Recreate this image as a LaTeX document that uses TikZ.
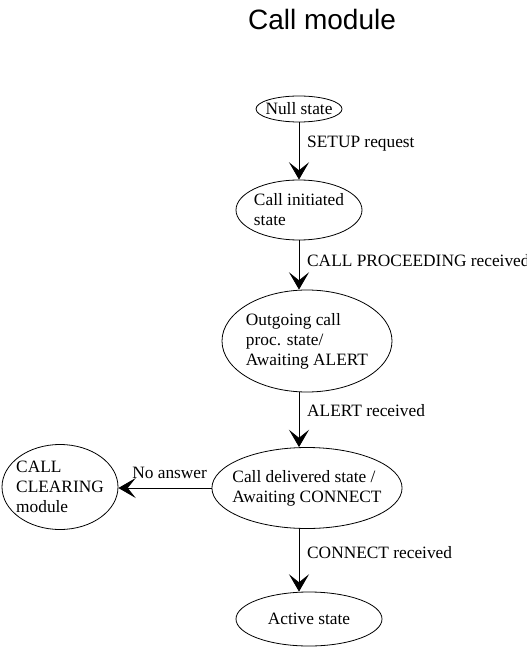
\documentclass[tikz,border=0pt]{standalone}
\usepackage{fontspec}
\setmainfont{Liberation Serif}
\newfontfamily\titlefont{Liberation Sans}
\usetikzlibrary{arrows.meta,shapes.geometric}

\begin{document}
\begin{tikzpicture}[x=0.75pt, y=-0.75pt,
	every node/.style={font=\fontsize{13}{15}\selectfont},
	state/.style={draw, ellipse, inner sep=0pt, align=left, line width=0.6pt},
	trans/.style={-{Stealth[length=13pt, width=15pt, inset=6pt]}, line width=0.6pt},
	lbl/.style={right, xshift=2.5pt}]
	\useasboundingbox (0,0) rectangle (526,648);
	\node[font=\titlefont\fontsize{21}{25}\selectfont] (title) at (322,19) {Call module};
	\node[state, inner xsep=-6pt, minimum width=64.5pt, minimum height=19.5pt] (null) at (299,109) {Null state};
	\node[state, inner xsep=-1pt, minimum width=94.5pt, minimum height=45pt] (init) at (299,210) {Call initiated\\state};
	\node[state, inner xsep=-1.5pt, minimum width=127.5pt, minimum height=76.5pt] (out) at (307,341) {Outgoing call\\proc. state/\\Awaiting ALERT};
	\node[state, inner xsep=-5.5pt, minimum width=142.5pt, minimum height=60.75pt] (deliv) at (307,488) {Call delivered state /\\Awaiting CONNECT};
	\node[state, inner xsep=-2.5pt, minimum width=87pt, minimum height=63.75pt] (clear) at (60,487) {CALL\\CLEARING\\module};
	\node[state, minimum width=109.5pt, minimum height=40.5pt] (active) at (309,619) {Active state};
	\draw[trans] (null.south) -- (init.north)
		node[lbl, pos=.37] {SETUP request};
	\draw[trans] (init.south) -- (init.south |- out.north)
		node[lbl, pos=.4] {CALL PROCEEDING received};
	\draw[trans] (init.south |- out.south) -- (init.south |- deliv.north)
		node[lbl, pos=.34] {ALERT received};
	\draw[trans] (init.south |- deliv.south) -- (init.south |- active.north)
		node[lbl, pos=.38] {CONNECT received};
	\draw[trans] (deliv.west) -- (deliv.west -| clear.east)
		node[above, pos=.45, yshift=3pt] {No answer};
\end{tikzpicture}
\end{document}
